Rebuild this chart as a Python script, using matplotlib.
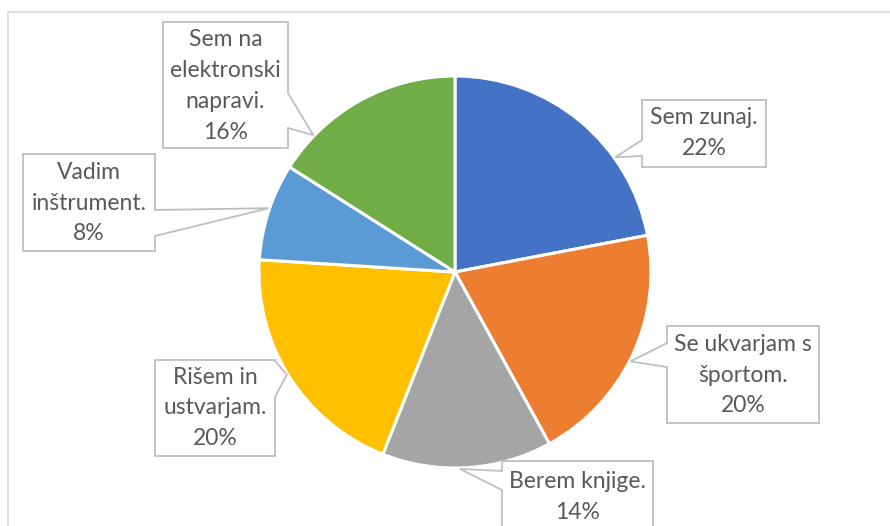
import matplotlib
matplotlib.use("Agg")
import matplotlib.pyplot as plt
from matplotlib.patches import Polygon, Rectangle
import numpy as np

categories = ['Sem zunaj.', 'Se ukvarjam s\nšportom.', 'Berem knjige.',
              'Rišem in\nustvarjam.', 'Vadim\ninštrument.', 'Sem na\nelektronski\nnapravi.']
shares = [22, 20, 14, 20, 8, 16]
colors = ['#4472C4', '#ED7D31', '#A5A5A5', '#FFC000', '#5B9BD5', '#70AD47']

W, H = 890, 526
# pie geometry in image pixels (y measured from top)
cx, cy, R = 455, 272, 196

# callout boxes: (x0, x1, y0, y1), side of pointer, pointer base (ya, yb), tip angle (deg), text centre y
boxes = [
    ((642, 766, 100, 167), 'left', (140, 156), 35.6, 133),
    ((667, 819, 326, 423), 'left', (343, 367), -27.0, 375),
    ((502, 653, 461, 540), 'left', (471, 490), -88.6, 497),
    ((155, 275, 360, 456), 'right', (361, 397), 211.4, 408),
    ((23, 155, 154, 251), 'right', (210, 236), 161.1, 203),
    ((163, 288, 22, 148), 'right', (93, 128), 136.0, 86),
]

fig = plt.figure(figsize=(W / 100, H / 100), dpi=100)
ax = fig.add_axes([0, 0, 1, 1])

wedges, _ = ax.pie(shares, colors=colors, startangle=90, counterclock=False,
                   center=(cx, H - cy), radius=R,
                   wedgeprops=dict(edgecolor='white', linewidth=2.2))

# chart frame
ax.add_patch(Rectangle((8, -20), W + 20, H - 12 + 20, fill=False,
                       edgecolor='#D9D9D9', linewidth=1.2, zorder=0))

def Y(y):
    return H - y

for cat, share, (box, side, (ya, yb), ang, ymid) in zip(categories, shares, boxes):
    x0, x1, y0, y1 = box
    a = np.deg2rad(ang)
    tip = (cx + R * 1.005 * np.cos(a), Y(cy) + R * 1.005 * np.sin(a))
    if side == 'left':
        pts = [(x0, Y(y0)), (x1, Y(y0)), (x1, Y(y1)), (x0, Y(y1)),
               (x0, Y(yb)), tip, (x0, Y(ya))]
    else:
        pts = [(x0, Y(y0)), (x1, Y(y0)), (x1, Y(ya)), tip,
               (x1, Y(yb)), (x1, Y(y1)), (x0, Y(y1))]
    ax.add_patch(Polygon(pts, closed=True, facecolor='white', edgecolor='#BFBFBF',
                         linewidth=1.3, zorder=3))
    ax.text((x0 + x1) / 2, Y(ymid), f'{cat}\n{share}%', ha='center', va='center',
            fontsize=16.5, family='Lato', color='#595959', linespacing=1.58, zorder=4)

ax.set_xlim(0, W)
ax.set_ylim(0, H)
ax.set_aspect('auto')
ax.axis('off')

fig.savefig('out.png', dpi=100)
